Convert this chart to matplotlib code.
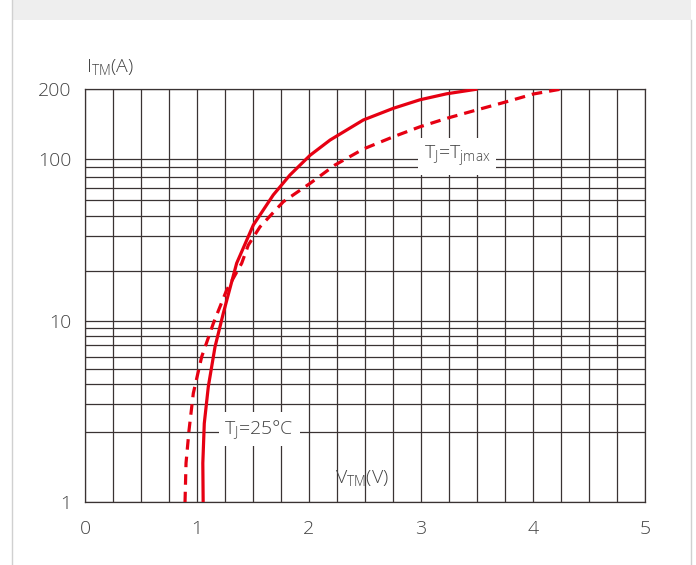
import numpy as np
import matplotlib.pyplot as plt
from matplotlib.patches import Rectangle
from matplotlib.lines import Line2D

plt.rcParams['font.family'] = ['Open Sans', 'DejaVu Sans']
plt.rcParams['mathtext.fontset'] = 'custom'
plt.rcParams['mathtext.rm'] = 'Open Sans:light'

# on-state characteristic
v_25 = [1.055, 1.052, 1.065, 1.101, 1.161, 1.235, 1.354, 1.503, 1.681, 1.830,
        2.009, 2.188, 2.485, 2.753, 2.991, 3.229, 3.491]
i_25 = [1.0, 1.47, 2.26, 3.85, 6.84, 11.1, 21.8, 35.0, 54.0, 72.2,
        104, 121, 147.6, 165.7, 180.3, 191.3, 200]

v_max = [0.893, 0.902, 0.929, 0.967, 1.042, 1.146, 1.265, 1.399, 1.458, 1.5625,
         1.771, 2.009, 2.232, 2.485, 2.753, 2.991, 3.229, 3.497, 3.765, 4.003, 4.241]
i_max = [1.0, 1.47, 2.05, 3.50, 6.0, 9.63, 15.3, 21.8, 26.9, 34.1,
         48.8, 64.1, 85.3, 110.7, 125.0, 138.0, 150.0, 163.0, 176.9, 190.9, 200]

x_labels = [0, 1, 2, 3, 4, 5]
y_labels = [1, 10, 100, 200]
y_minor = [2, 3, 4, 5, 6, 7, 8, 9, 20, 30, 40, 50, 60, 70, 80]

# the printed grid is not a clean log scale, so map values onto where
# each grid line actually sits (fraction of the axis height)
scale_vals = [1, 2, 3, 4, 5, 6, 7, 8, 9, 10, 20, 30, 40, 50, 60, 70, 80, 100, 200]
scale_pos = [0, 0.1709, 0.2380, 0.2864, 0.3228, 0.3525, 0.3809, 0.4027, 0.4220,
             0.4397, 0.5608, 0.6455, 0.6939, 0.7320, 0.7610, 0.7869, 0.8111,
             0.8305, 1.0]
log_vals = np.log10(scale_vals)


def fwd(v):
    return np.interp(np.log10(np.maximum(v, 1e-6)), log_vals, scale_pos)


def inv(p):
    return 10 ** np.interp(p, scale_pos, log_vals)


W, H = 696, 565
fig = plt.figure(figsize=(W / 100, H / 100), dpi=100)

# page frame around the chart
fig.add_artist(Rectangle((12 / W, 1 - 20 / H), (691 - 12) / W, 20 / H,
                         transform=fig.transFigure, color='#eeeeee', lw=0))
fig.add_artist(Line2D([12 / W, 12 / W], [0, 1], transform=fig.transFigure,
                      color='#d0d0d0', lw=1))
fig.add_artist(Line2D([691 / W, 691 / W], [0, 1 - 20 / H], transform=fig.transFigure,
                      color='#d0d0d0', lw=1))

ax = fig.add_axes([85 / W, 1 - 502.3 / H, 560 / W, 413 / H])
ax.set_yscale('function', functions=(fwd, inv))
ax.set_xlim(0, 5)
ax.set_ylim(1, 200)

grid_col = '#3a3333'
ax.set_xticks(x_labels)
ax.set_xticks(np.arange(0, 5.01, 0.25), minor=True)
ax.set_yticks(y_labels)
ax.set_yticks(y_minor, minor=True)
ax.set_yticklabels([str(v) for v in y_labels])
ax.yaxis.set_minor_formatter(plt.NullFormatter())
ax.grid(True, which='both', color=grid_col, lw=0.9)
ax.set_axisbelow(True)
ax.tick_params(which='both', length=0, labelsize=14, labelcolor='#444444')
ax.tick_params(axis='x', pad=13)
ax.tick_params(axis='y', pad=10)
for lab in ax.get_xticklabels() + ax.get_yticklabels():
    lab.set_fontweight('light')
for s in ax.spines.values():
    s.set_color(grid_col)
    s.set_linewidth(0.9)

red = '#e60012'
ax.plot(v_25, i_25, color=red, lw=2.3, zorder=3)
dash, = ax.plot(v_max, i_max, color=red, lw=2.3, zorder=3)
dash.set_dashes((3.3, 2.2))

txt = dict(fontsize=14, color='#444444', fontweight='light')
box = dict(boxstyle='square,pad=0.3', fc='white', ec='none')
ax.text(0.311, 0.167, 'T$_\\mathrm{J}$=25°C', transform=ax.transAxes,
        ha='center', va='baseline', bbox=box, zorder=4, **txt)
ax.text(0.664, 0.829, 'T$_\\mathrm{J}$=T$_\\mathrm{jmax}$', transform=ax.transAxes,
        ha='center', va='baseline', bbox=box, zorder=4, **txt)
ax.text(0.4955, 0.046, 'V$_\\mathrm{TM}$(V)', transform=ax.transAxes,
        ha='center', va='baseline', zorder=4, **txt)
ax.text(0.002, 1.039, 'I$_\\mathrm{TM}$(A)', transform=ax.transAxes,
        ha='left', va='baseline', **txt)

fig.savefig('out.png', dpi=100)
